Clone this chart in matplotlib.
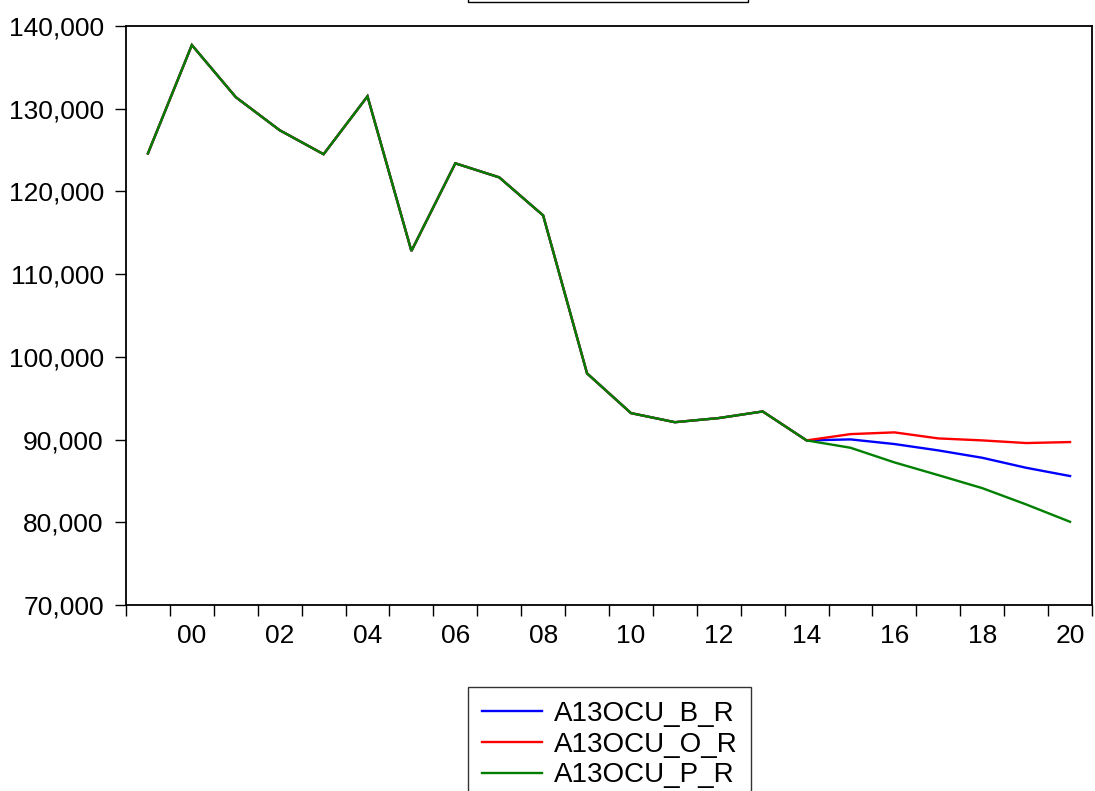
import matplotlib
matplotlib.use("Agg")
import matplotlib.pyplot as plt
from matplotlib.patches import Rectangle
import numpy as np

plt.rcParams['font.family'] = ['Liberation Sans', 'DejaVu Sans']

years = list(range(1999, 2021))
hist = [124600, 137700, 131400, 127400, 124500, 131500, 112800, 123400,
        121700, 117100, 98000, 93200, 92100, 92600, 93400, 89900]
base_fc = [90020, 89460, 88690, 87800, 86590, 85590]
opt_fc = [90660, 90870, 90140, 89900, 89580, 89700]
pes_fc = [89010, 87240, 85700, 84130, 82160, 80060]

series_b = hist + base_fc
series_o = hist + opt_fc
series_p = hist + pes_fc
labels = ["A13OCU_B_R", "A13OCU_O_R", "A13OCU_P_R"]
colors = ["#0000FF", "#FF0000", "#007F00"]

yticks = list(range(70000, 140001, 10000))
xlabel_years = list(range(2000, 2021, 2))

W, H = 1095, 791
fig = plt.figure(figsize=(W / 100, H / 100), dpi=100)
ax = fig.add_axes([126 / W, 1 - 605 / H, (1092 - 126) / W, (605 - 26) / H])

for s, lab, c in zip([series_b, series_o, series_p], labels, colors):
    ax.plot(years, s, color=c, lw=1.7, label=lab, solid_joinstyle='miter')

ax.set_xlim(1998.5, 2020.5)
ax.set_ylim(70000, 140000)

ax.set_yticks(yticks)
ax.set_yticklabels([f"{v:,}" for v in yticks])
ax.set_xticks(np.arange(1998.5, 2021, 1.0))
ax.set_xticklabels([])
ax.set_xticks(xlabel_years, minor=True)
ax.set_xticklabels([f"{y % 100:02d}" for y in xlabel_years], minor=True)

ax.tick_params(axis='y', which='major', direction='out', length=8, width=1.0,
               labelsize=19, pad=8, right=False)
ax.tick_params(axis='x', which='major', direction='out', length=8, width=1.0,
               top=False)
ax.tick_params(axis='x', which='minor', length=0, labelsize=19, pad=14)

for sp in ax.spines.values():
    sp.set_linewidth(1.3)

leg = fig.legend(loc='upper left', bbox_to_anchor=(468 / W, 1 - 687 / H),
                 fontsize=20, frameon=True, fancybox=False, edgecolor='black',
                 handlelength=2.15, handletextpad=0.43, labelspacing=0.17,
                 borderpad=0.5, borderaxespad=0)
leg.get_frame().set_linewidth(1.0)

fig.patches.append(Rectangle((468 / W, 1 - 2 / H), (748 - 468) / W, 0.05,
                             transform=fig.transFigure, fill=False,
                             edgecolor='black', lw=1.0))

fig.savefig("out.png", dpi=100)
